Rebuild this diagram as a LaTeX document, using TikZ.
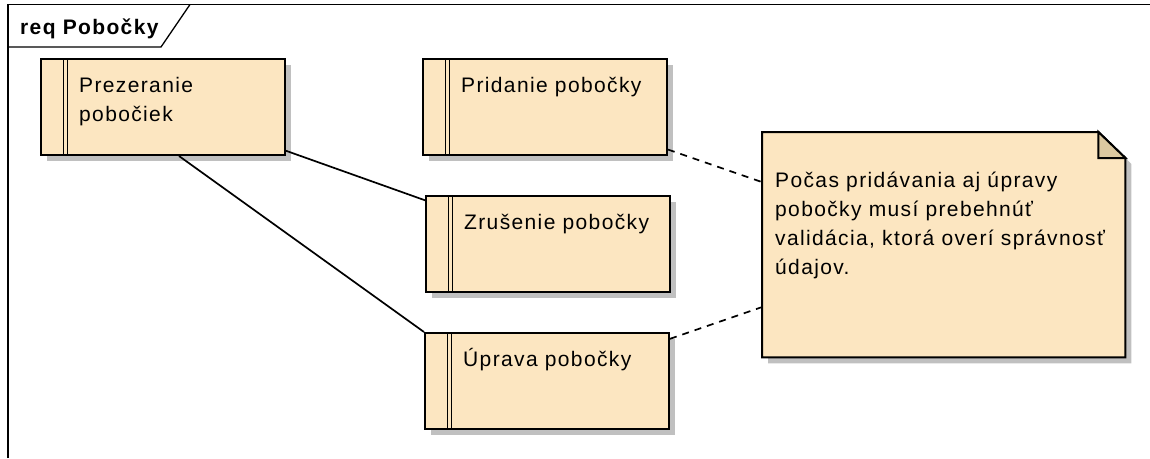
\documentclass[tikz,border=0pt]{standalone}
\usepackage{fontspec}
\setmainfont{Liberation Sans}[LetterSpace=6.5]
\usetikzlibrary{shadows}
\definecolor{reqfill}{RGB}{252,230,193}
\definecolor{foldfill}{RGB}{219,200,160}
\definecolor{shadowgray}{RGB}{192,192,192}
\begin{document}
\begin{tikzpicture}[x=1pt, y=-1pt, font=\fontsize{21}{29}\selectfont]
% requirement diagram, one unit = one pixel of the reference
\tikzstyle{reqbox} = [rectangle, draw=black, line width=2pt, fill=reqfill, minimum width=244pt, minimum height=96pt, anchor=north west, inner sep=0pt,
  drop shadow={shadow xshift=6pt, shadow yshift=-6pt, fill=shadowgray, opacity=1},
  path picture={
    \draw[line width=1.6pt] ([xshift=22.5pt]path picture bounding box.north west) -- ([xshift=22.5pt]path picture bounding box.south west);
    \draw[line width=1.6pt] ([xshift=26.5pt]path picture bounding box.north west) -- ([xshift=26.5pt]path picture bounding box.south west);
  }]
\tikzstyle{reqtext} = [anchor=base west, inner sep=0pt, shift={(39,34)}]
\tikzstyle{trace} = [line width=1.7pt, black]
\tikzstyle{notelink} = [line width=1.7pt, black, dash pattern=on 7pt off 6pt]
\useasboundingbox (0,0) rectangle (1150,458);
% frame
\coordinate (frame) at (8,4.5);
\draw[line width=1.3pt] (8,458) -- (frame) -- (1150,4.5);
\draw[line width=1.3pt] (8,47) -- (161,47) -- (190,4.5);
\node (title) [anchor=base west, inner sep=0pt, font=\fontsize{21}{29}\selectfont\bfseries] at (20,34.5) {req Pobočky};
% requirements
\node (prez)[reqbox, label={[reqtext]north west:\parbox[t]{200pt}{Prezeranie\\pobočiek}}] at (40,58) {};
\node (prid)[reqbox, label={[reqtext]north west:Pridanie pobočky}] at (422,58) {};
\node (zrus)[reqbox, label={[reqtext]north west:Zrušenie pobočky}] at (425,195) {};
\node (uprava)[reqbox, label={[reqtext]north west:Úprava pobočky}] at (424,332) {};
% note
\node (note)[rectangle, minimum width=363pt, minimum height=225pt, anchor=north west, inner sep=0pt] at (762,132) {};
\filldraw[fill=reqfill, line width=2pt, drop shadow={shadow xshift=6pt, shadow yshift=-6pt, fill=shadowgray, opacity=1}]
  (note.north west) -- ([xshift=-27pt]note.north east) -- ([yshift=-26pt]note.north east) -- (note.south east) -- (note.south west) -- cycle;
\filldraw[fill=foldfill, line width=2pt] ([xshift=-27pt]note.north east) -- ([xshift=-27pt,yshift=-26pt]note.north east) -- ([yshift=-26pt]note.north east) -- cycle;
\node (notetext)[anchor=base west, inner sep=0pt] at ([shift={(13,55)}]note.north west)
  {\parbox[t]{345pt}{Počas pridávania aj úpravy\\pobočky musí prebehnúť\\validácia, ktorá overí správnosť\\údajov.}};
% connectors
\draw [trace] (prez) -- (zrus);
\draw [trace] ([xshift=16pt]prez.south) -- (uprava.north west);
\draw [notelink] (prid) -- (note);
\draw [notelink] (uprava) -- (note);
\end{tikzpicture}
\end{document}
